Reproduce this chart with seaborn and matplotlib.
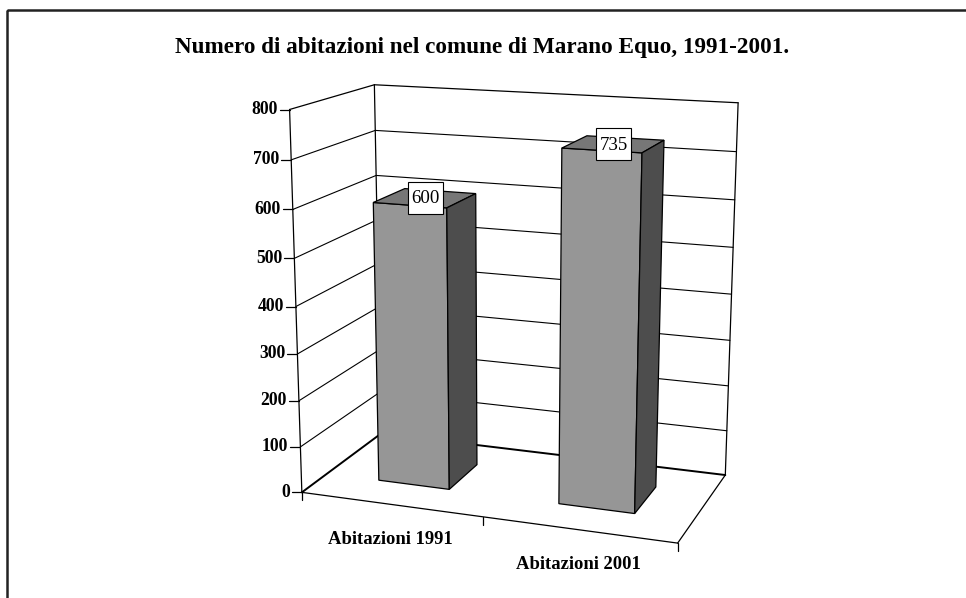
import numpy as np
import pandas as pd
import matplotlib
matplotlib.use("Agg")
import matplotlib.pyplot as plt
import matplotlib.transforms as mtransforms
from matplotlib.patches import Rectangle
import seaborn as sns

# ---- data -------------------------------------------------------------
categories = ["Abitazioni 1991", "Abitazioni 2001"]
values = [600, 735]
value_ticks = [0, 100, 200, 300, 400, 500, 600, 700, 800]
title = "Numero di abitazioni nel comune di Marano Equo, 1991-2001."

# ---- style ------------------------------------------------------------
sns.set_theme(style="white")
plt.rcParams["font.family"] = ["Liberation Serif", "DejaVu Serif"]

FRONT, TOP, SIDE = "#969696", "#777777", "#4d4d4d"
EDGE = "black"

W, H = 966, 598
fig = plt.figure(figsize=(W / 100, H / 100), dpi=100)
ax = fig.add_axes([0, 0, 1, 1])

# ---- perspective camera -------------------------------------------------
# world coordinates: (category position, depth 0=front..1=back, value)
z_top = value_ticks[-1]
x_lo, x_hi = -0.5, len(categories) - 0.5
box_world = [(x_lo, 0, 0), (x_lo, 0, z_top), (x_lo, 1, z_top), (x_hi, 1, z_top),
             (x_hi, 1, 0), (x_hi, 0, 0), (x_lo, 1, 0)]
# where those box corners sit on the page (pixels)
box_page = [(303, 492), (289, 109), (375, 85), (738, 103),
            (726, 474), (677, 544), (380, 434)]


def fit_camera(world, page):
    rows = []
    for (X, D, Z), (u, v) in zip(world, page):
        Z = Z / z_top
        u, v = u / 1000.0, v / 1000.0
        rows.append([X, D, Z, 1, 0, 0, 0, 0, -u * X, -u * D, -u * Z, -u])
        rows.append([0, 0, 0, 0, X, D, Z, 1, -v * X, -v * D, -v * Z, -v])
    return np.linalg.svd(np.asarray(rows, float))[2][-1].reshape(3, 4)


CAM = fit_camera(box_world, box_page)


def project(x, d, z):
    x, d, z = np.broadcast_arrays(np.asarray(x, float), np.asarray(d, float),
                                  np.asarray(z, float))
    pts = np.vstack([x.ravel(), d.ravel(), z.ravel() / z_top, np.ones(x.size)])
    h = CAM @ pts
    return h[0] / h[2] * 1000.0, h[1] / h[2] * 1000.0


class DepthPlane(mtransforms.Transform):
    """Maps (category, value) on a vertical plane at a given depth to the page."""
    input_dims = output_dims = 2
    is_separable = False
    has_inverse = False

    def __init__(self, plane_depth):
        super().__init__()
        self.plane_depth = plane_depth

    def transform_non_affine(self, values):
        values = np.asarray(values, float).reshape(-1, 2)
        u, v = project(values[:, 0], self.plane_depth, values[:, 1])
        return np.column_stack([u, v])


# ---- bars (front faces by seaborn, warped onto the front plane) ----------
df = pd.DataFrame({"categoria": categories, "abitazioni": values})
sns.barplot(data=df, x="categoria", y="abitazioni", color=FRONT, saturation=1,
            width=0.4, edgecolor=EDGE, linewidth=0.9, errorbar=None, ax=ax,
            zorder=5)
bars = [p for p in ax.patches]

ax.set_xlim(0, W)
ax.set_ylim(H, 0)
ax.axis("off")

D_FRONT, D_BACK = 0.3, 0.7
for b in bars:
    b.set_transform(DepthPlane(D_FRONT) + ax.transData)
    b.set_clip_on(False)

# ---- walls and floor ------------------------------------------------------
thin, mid, thick = 0.8, 0.9, 1.4
for t in value_ticks:
    lw = thick if t == 0 else (mid if t == z_top else thin)
    ax.plot(*project([x_lo, x_lo], [0, 1], [t, t]), color=EDGE, lw=lw, zorder=2)
    ax.plot(*project([x_lo, x_hi], [1, 1], [t, t]), color=EDGE, lw=lw, zorder=2)

for xe, de in [(x_lo, 0), (x_lo, 1), (x_hi, 1)]:
    ax.plot(*project([xe, xe], [de, de], [0, z_top]), color=EDGE, lw=mid, zorder=2)

ax.plot(*project([x_lo, x_hi], [0, 0], [0, 0]), color=EDGE, lw=mid, zorder=2)
ax.plot(*project([x_hi, x_hi], [0, 1], [0, 0]), color=EDGE, lw=mid, zorder=2)

# value axis ticks and labels
for t in value_ticks:
    u, v = project(x_lo, 0, t)
    ax.plot([u[0] - 10, u[0]], [v[0], v[0]], color=EDGE, lw=mid, zorder=2)
    ax.text(u[0] - 12, v[0], f"{t}", ha="right", va="center",
            fontsize=12.7, fontweight="bold", color="black")

# category axis ticks and labels
for xt in np.arange(x_lo, x_hi + 0.01, 1.0):
    u, v = project(xt, 0, 0)
    ax.plot([u[0], u[0]], [v[0], v[0] + 8], color=EDGE, lw=mid, zorder=2)
for i, name in enumerate(categories):
    u, v = project(i, 0, 0)
    ax.text(u[0], v[0] + 35, name, ha="center", va="center",
            fontsize=13.4, fontweight="bold", color="black")

# ---- top and side faces plus value labels ----------------------------------
renderer = fig.canvas.get_renderer()
for b in bars:
    x0 = b.get_x()
    x1 = x0 + b.get_width()
    val = b.get_y() + b.get_height()
    top = project([x0, x1, x1, x0], [D_FRONT, D_FRONT, D_BACK, D_BACK], [val] * 4)
    side = project([x1] * 4, [D_FRONT, D_BACK, D_BACK, D_FRONT], [0, 0, val, val])
    ax.fill(*top, facecolor=TOP, edgecolor=EDGE, lw=0.9, zorder=5)
    ax.fill(*side, facecolor=SIDE, edgecolor=EDGE, lw=0.9, zorder=5)
    cu, cv = project((x0 + x1) / 2, (D_FRONT + D_BACK) / 2, val)
    label = ax.text(cu[0], cv[0] + 1, f"{val:.0f}", ha="center", va="center",
                    fontsize=13.6, color="black", zorder=7)
    tw = label.get_window_extent(renderer).width
    bw, bh = tw + 7, 32
    ax.add_patch(Rectangle((cu[0] - bw / 2, cv[0] - bh / 2), bw, bh,
                           facecolor="white", edgecolor=EDGE, lw=0.8, zorder=6))

# ---- title and chart border ------------------------------------------------
ax.text(482, 47, title, ha="center", va="center", fontsize=16.7,
        fontweight="bold", color="black")
ax.add_patch(Rectangle((7, 10), 1000, 1000, fill=False, edgecolor="#222222",
                       lw=1.8, zorder=1, clip_on=False))

fig.savefig("out.png", dpi=100)
